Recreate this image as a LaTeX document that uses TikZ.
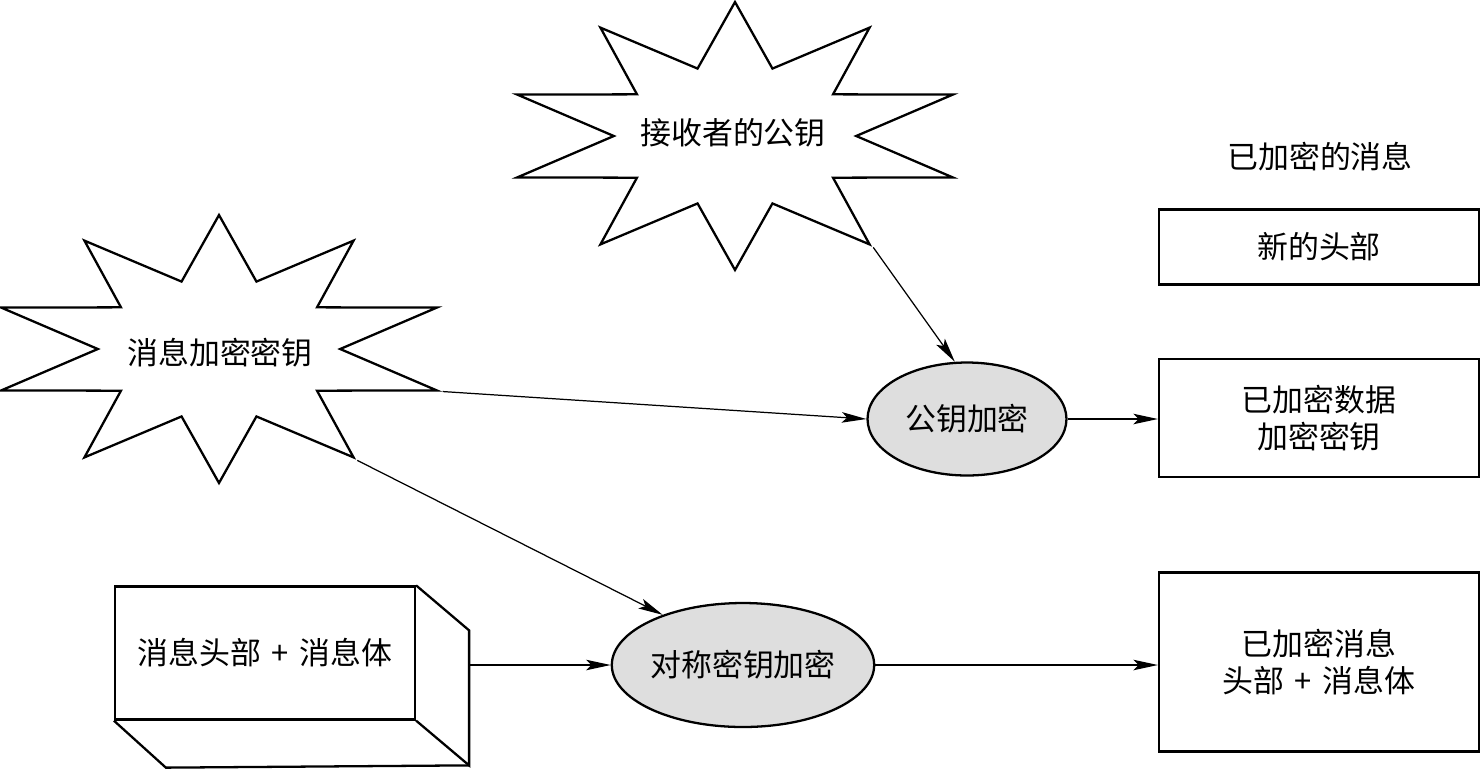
\documentclass[tikz,border=0pt]{standalone}
\usepackage{fontspec}
\newfontfamily\cjk{Noto Sans CJK SC}
\usetikzlibrary{shapes.geometric, arrows.meta, positioning, calc}

\begin{document}
\begin{tikzpicture}[x=0.02cm, y=-0.02cm,
    txt/.style={font=\cjk\fontsize{17.6}{21}\selectfont, align=center},
    burst/.style={draw, line width=1.3pt, star, star points=10, star point ratio=1.89,
        minimum size=5.36cm, inner sep=0pt, transform shape},
    encstep/.style={draw, line width=1.3pt, fill=black!13, ellipse, inner sep=0pt, txt},
    msgpart/.style={draw, line width=1.3pt, minimum width=6.4cm, txt},
    link/.style={-{Stealth[length=14pt,width=6pt,inset=3pt]}, line width=0.7pt}]
  \useasboundingbox (0,0) rectangle (1481,769);

  % starbursts, stretched sideways
  \begin{scope}[shift={(735,136)}, xscale=1.709]
    \node[burst] (pubkey) at (0,0) {};
  \end{scope}
  \begin{scope}[shift={(219,349)}, xscale=1.709]
    \node[burst] (msgkey) at (0,0) {};
  \end{scope}
  \node[txt] (pubkeytxt) at (733,133) {接收者的公钥};
  \node[txt] (msgkeytxt) at (220,353) {消息加密密钥};

  % encryption steps
  \node[encstep, minimum width=3.98cm, minimum height=2.26cm] (pkenc) at (967,419) {公钥加密};
  \node[encstep, minimum width=5.16cm, minimum height=2.48cm] (skenc) at (743,665) {对称密钥加密};

  % plain message as a block
  \node[draw, line width=1.3pt, minimum width=6cm, minimum height=2.66cm, txt] (plain) at (265,653)
      {消息头部\hspace{0.35em}+\hspace{0.35em}消息体};
  \draw[line width=1.3pt] (plain.north east) -- ++(53,45) coordinate (plainback)
      -- ++(0,135) coordinate (plaincorner) -- (plain.south east);
  \draw[line width=1.3pt] (plain.south west) -- ++(52,47) -- (plaincorner);

  % encrypted message
  \node[txt] (title) at (1320,157) {已加密的消息};
  \node[msgpart, minimum height=1.5cm] (newhdr) at (1319,247) {新的头部};
  \node[msgpart, minimum height=2.36cm] (enckey) at (1319,418) {已加密数据\\加密密钥};
  \node[msgpart, minimum height=3.58cm] (encmsg) at (1319,662)
      {已加密消息\\头部\hspace{0.35em}+\hspace{0.35em}消息体};

  \draw[link] (pubkey.outer point 7) -- (pkenc.102);
  \draw[link] (msgkey.outer point 8) -- (pkenc.west);
  \draw[link] (msgkey.outer point 7) -- (skenc.148);
  \draw[link] (skenc.west -| plainback) -- (skenc.west);
  \draw[link] (pkenc.east) -- (pkenc.east -| enckey.west);
  \draw[link] (skenc.east) -- (skenc.east -| encmsg.west);
\end{tikzpicture}
\end{document}
